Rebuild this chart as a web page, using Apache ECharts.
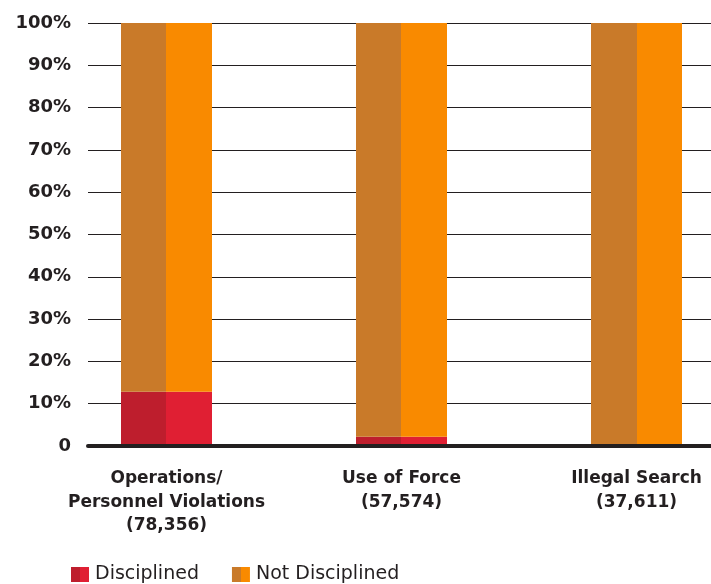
<!DOCTYPE html>
<html>
<head>
<meta charset="utf-8">
<script src="https://cdn.jsdelivr.net/npm/echarts@6/dist/echarts.min.js"></script>
<style>
  html, body { margin: 0; padding: 0; background: #ffffff; }
  #chart { width: 711px; height: 584px; }
</style>
</head>
<body>
<div id="chart"></div>
<script>
// Share of complaints, by type, that ended in discipline
const categories = [
  'Operations/\nPersonnel Violations\n(78,356)',
  'Use of Force\n(57,574)',
  'Illegal Search\n(37,611)'
];
const disciplined = [12.8, 2.2, 0];
const notDisciplined = [87.2, 97.8, 100];
const yTicks = [0, 10, 20, 30, 40, 50, 60, 70, 80, 90, 100];

const INK = '#231f20';
const FONT = 'DejaVu Sans';

// Two-tone fill: darker left half, brighter right half
function twoTone(dark, bright) {
  return new echarts.graphic.LinearGradient(0, 0, 1, 0, [
    { offset: 0, color: dark },
    { offset: 0.5, color: dark },
    { offset: 0.5, color: bright },
    { offset: 1, color: bright }
  ]);
}

const chart = echarts.init(document.getElementById('chart'), null, { renderer: 'canvas' });

chart.setOption({
  animation: false,
  backgroundColor: '#ffffff',
  grid: [
    { left: 166.5, width: 470, top: 23, bottom: 138 },
    { left: 88, right: 0, top: 23, bottom: 138 }
  ],
  xAxis: [
    {
      gridIndex: 0,
      type: 'category',
      boundaryGap: false,
      data: categories,
      axisLine: { show: false },
      axisTick: { show: false },
      splitLine: { show: false },
      axisLabel: {
        interval: 0,
        margin: 21,
        color: INK,
        fontFamily: FONT,
        fontWeight: 'bold',
        fontSize: 17,
        lineHeight: 23.5,
        align: 'center'
      }
    },
    {
      gridIndex: 1,
      type: 'value',
      min: 0,
      max: 1,
      offset: 2,
      z: 5,
      axisLine: { show: true, lineStyle: { color: INK, width: 4 } },
      axisTick: { show: false },
      axisLabel: { show: false },
      splitLine: { show: false }
    }
  ],
  yAxis: [
    {
      gridIndex: 0,
      type: 'value',
      min: 0,
      max: 100,
      show: false
    },
    {
      gridIndex: 1,
      type: 'value',
      min: 0,
      max: 100,
      interval: 10,
      axisLine: { show: false },
      axisTick: { show: false },
      axisLabel: {
        margin: 17,
        color: INK,
        fontFamily: FONT,
        fontWeight: 'bold',
        fontSize: 18,
        formatter: v => (yTicks.indexOf(v) >= 0 ? (v === 0 ? '0' : v + '%') : '')
      },
      splitLine: { show: true, lineStyle: { color: INK, width: 1 } }
    }
  ],
  legend: {
    left: 66,
    top: 560,
    itemWidth: 18,
    itemHeight: 15,
    itemGap: 33,
    icon: 'rect',
    textStyle: { color: INK, fontFamily: FONT, fontSize: 19, padding: [0, 0, 0, 1] },
    data: ['Disciplined', 'Not Disciplined']
  },
  series: [
    {
      name: 'Disciplined',
      type: 'bar',
      xAxisIndex: 0,
      yAxisIndex: 0,
      stack: 'total',
      barWidth: 91,
      itemStyle: { color: twoTone('#be1e2d', '#e01f33') },
      data: disciplined
    },
    {
      name: 'Not Disciplined',
      type: 'bar',
      xAxisIndex: 0,
      yAxisIndex: 0,
      stack: 'total',
      barWidth: 91,
      itemStyle: { color: twoTone('#c97a29', '#f98a00') },
      data: notDisciplined
    }
  ]
});
</script>
</body>
</html>
